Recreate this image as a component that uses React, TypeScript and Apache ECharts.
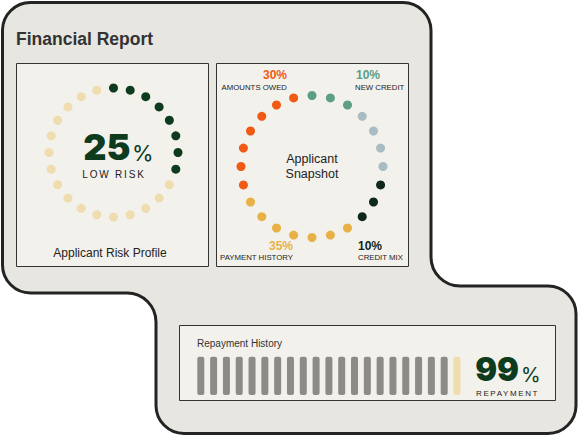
import React, { useEffect, useRef } from 'react';
import * as echarts from 'echarts';

// ---------- data ----------
const ringSlots = ['1','2','3','4','5','6','7','8','9','10','11','12','13','14','15','16','17','18','19','20','21','22','23','24'];

const riskSegments = ['Risk', 'Remaining'];
const riskDotCounts = [8, 16];
const riskPercent = 25;
const riskLabel = 'LOW RISK';

const snapshotSegments = ['New Credit', 'Other', 'Credit Mix', 'Payment History', 'Amounts Owed'];
const snapshotDotCounts = [3, 4, 3, 7, 7];
const snapshotPercents = [10, null, 10, 35, 30];
const snapshotLabels = ['NEW CREDIT', '', 'CREDIT MIX', 'PAYMENT HISTORY', 'AMOUNTS OWED'];

const repaymentMonths = ['M1','M2','M3','M4','M5','M6','M7','M8','M9','M10','M11','M12','M13','M14','M15','M16','M17','M18','M19','M20','M21'];
const repaymentStatus = ['paid','paid','paid','paid','paid','paid','paid','paid','paid','paid','paid','paid','paid','paid','paid','paid','paid','paid','paid','paid','pending'];
const repaymentPercent = 99;

// ---------- styles ----------
const riskColors = ['#0e3b1d', '#efdcaf'];
const snapshotColors = ['#5c9e86', '#a9bcc3', '#10271c', '#e7b146', '#f05a14'];
const statusColors: Record<string, string> = { paid: '#8c8b88', pending: '#efdcaf' };

const SANS = '"Liberation Sans", Arial, sans-serif';
const NUM = 'Inter, "Liberation Sans", sans-serif';

const outline =
  'M 2.5 30 A 28 28 0 0 1 30.5 2.5 L 403 2.5 A 28 28 0 0 1 431 30.5 L 431 257 ' +
  'A 29 29 0 0 0 460 286 L 548 286 A 28 28 0 0 1 576 314 L 576 405.5 ' +
  'A 28 28 0 0 1 548 433.5 L 184 433.5 A 28 28 0 0 1 156 405.5 L 156 322 ' +
  'A 29 29 0 0 0 127 293 L 30.5 293 A 28 28 0 0 1 2.5 265 Z';

let registered = false;
function ensureShape() {
  if (registered) return;
  echarts.graphic.registerShape('frameShape', (echarts.graphic as any).extendPath(outline, {}));
  registered = true;
}

function ringSeries(names: string[], counts: number[], colors: string[], polarIndex: number) {
  let start = 0;
  return names.map((name, i) => {
    const data: number[][] = [];
    for (let k = 0; k < counts[i]; k++) data.push([1, start + k]);
    start += counts[i];
    return {
      type: 'scatter',
      name,
      coordinateSystem: 'polar',
      polarIndex,
      symbol: 'circle',
      symbolSize: 9,
      silent: true,
      itemStyle: { color: colors[i], opacity: 1 },
      data,
      z: 5,
    };
  });
}

function txt(text: string, x: number, y: number, font: string, fill: string, align: string = 'left', extra: any = {}) {
  return {
    type: 'text',
    silent: true,
    z: 20,
    style: {
      text, x, y, font, fill,
      align, textAlign: align,
      verticalAlign: 'middle', textVerticalAlign: 'middle',
      ...extra,
    },
  };
}

export default function App() {
  const ref = useRef<HTMLDivElement>(null);
  useEffect(() => {
    if (!ref.current) return;
    document.body.style.margin = '0';
    ensureShape();
    const chart = echarts.init(ref.current, undefined, { renderer: 'svg', width: 580, height: 437 });

    const graphics: any[] = [
      { type: 'frameShape', x: 0, y: 0, silent: true, z: 0, style: { fill: '#e7e6e1', stroke: '#232323', lineWidth: 3 } },
      { type: 'rect', silent: true, z: 1, shape: { x: 16.5, y: 63.5, width: 192, height: 203 }, style: { fill: '#f3f1ec', stroke: '#333', lineWidth: 1 } },
      { type: 'rect', silent: true, z: 1, shape: { x: 216.5, y: 63.5, width: 192, height: 203 }, style: { fill: '#f3f1ec', stroke: '#333', lineWidth: 1 } },
      { type: 'rect', silent: true, z: 1, shape: { x: 179.5, y: 325.5, width: 376, height: 75 }, style: { fill: '#f3f1ec', stroke: '#333', lineWidth: 1 } },

      txt('Financial Report', 16, 39, `bold 17.5px ${SANS}`, '#333'),

      txt(String(riskPercent), 130.5, 147, `900 36px ${NUM}`, riskColors[0], 'right'),
      txt('%', 132, 153, `normal 22px ${NUM}`, riskColors[0], 'left'),
      txt(riskLabel, 114, 174.5, `normal 10px ${SANS}`, '#222', 'center'),
      txt('Applicant Risk Profile', 110, 253, `normal 12px ${SANS}`, '#222', 'center'),

      txt('Applicant\nSnapshot', 312, 166.3, `normal 12.5px ${SANS}`, '#222', 'center', { lineHeight: 14.5 }),

      txt(`${snapshotPercents[4]}%`, 287, 75, `bold 12px ${SANS}`, snapshotColors[4], 'right'),
      txt(snapshotLabels[4], 287, 87.3, `normal 7.8px ${SANS}`, '#222', 'right'),
      txt(`${snapshotPercents[0]}%`, 356, 75, `bold 12px ${SANS}`, snapshotColors[0], 'left'),
      txt(snapshotLabels[0], 355, 87.3, `normal 7.8px ${SANS}`, '#222', 'left'),
      txt(`${snapshotPercents[3]}%`, 293, 246, `bold 12px ${SANS}`, snapshotColors[3], 'right'),
      txt(snapshotLabels[3], 293, 257.3, `normal 7.8px ${SANS}`, '#222', 'right'),
      txt(`${snapshotPercents[2]}%`, 358, 246, `bold 12px ${SANS}`, snapshotColors[2], 'left'),
      txt(snapshotLabels[2], 358, 257.3, `normal 7.8px ${SANS}`, '#222', 'left'),

      txt('Repayment History', 197, 343.5, `normal 10px ${SANS}`, '#333', 'left'),
      txt(String(repaymentPercent), 519, 369, `900 32.5px ${NUM}`, riskColors[0], 'right'),
      txt('%', 521, 374.5, `normal 20px ${NUM}`, riskColors[0], 'left'),
      txt('REPAYMENT', 476, 393.2, `normal 8px ${SANS}`, '#222', 'left'),
    ];

    const option: any = {
      animation: false,
      backgroundColor: 'transparent',
      tooltip: { show: false },
      polar: [
        { center: [113.5, 152.5], radius: 64.5 },
        { center: [312, 166.5], radius: 71 },
      ],
      angleAxis: [0, 1].map((i) => ({
        polarIndex: i,
        type: 'category',
        data: ringSlots,
        boundaryGap: false,
        startAngle: 90,
        clockwise: true,
        axisLine: { show: false },
        axisTick: { show: false },
        axisLabel: { show: false },
        splitLine: { show: false },
      })),
      radiusAxis: [0, 1].map((i) => ({
        polarIndex: i,
        type: 'value',
        min: 0,
        max: 1,
        axisLine: { show: false },
        axisTick: { show: false },
        axisLabel: { show: false },
        splitLine: { show: false },
      })),
      grid: { left: 194.4, top: 356.7, width: 269, height: 38.3, containLabel: false },
      xAxis: { type: 'category', data: repaymentMonths, show: false },
      yAxis: { type: 'value', min: 0, max: 1, show: false },
      series: [
        ...ringSeries(riskSegments, riskDotCounts, riskColors, 0),
        ...ringSeries(snapshotSegments, snapshotDotCounts, snapshotColors, 1),
        {
          type: 'bar',
          name: 'Repayment',
          silent: true,
          barWidth: 7,
          z: 5,
          data: repaymentStatus.map((s) => ({ value: 1, itemStyle: { color: statusColors[s], borderRadius: 2 } })),
        },
      ],
      graphic: { elements: graphics },
    };
    chart.setOption(option);

    const spaced: Record<string, string> = { 'LOW RISK': '1.8px', REPAYMENT: '1.6px' };
    ref.current.querySelectorAll('text').forEach((t) => {
      const s = spaced[(t.textContent || '').trim()];
      if (s) (t as SVGTextElement).style.letterSpacing = s;
    });

    return () => chart.dispose();
  }, []);

  return <div ref={ref} style={{ width: 580, height: 437, background: '#fff' }} />;
}
